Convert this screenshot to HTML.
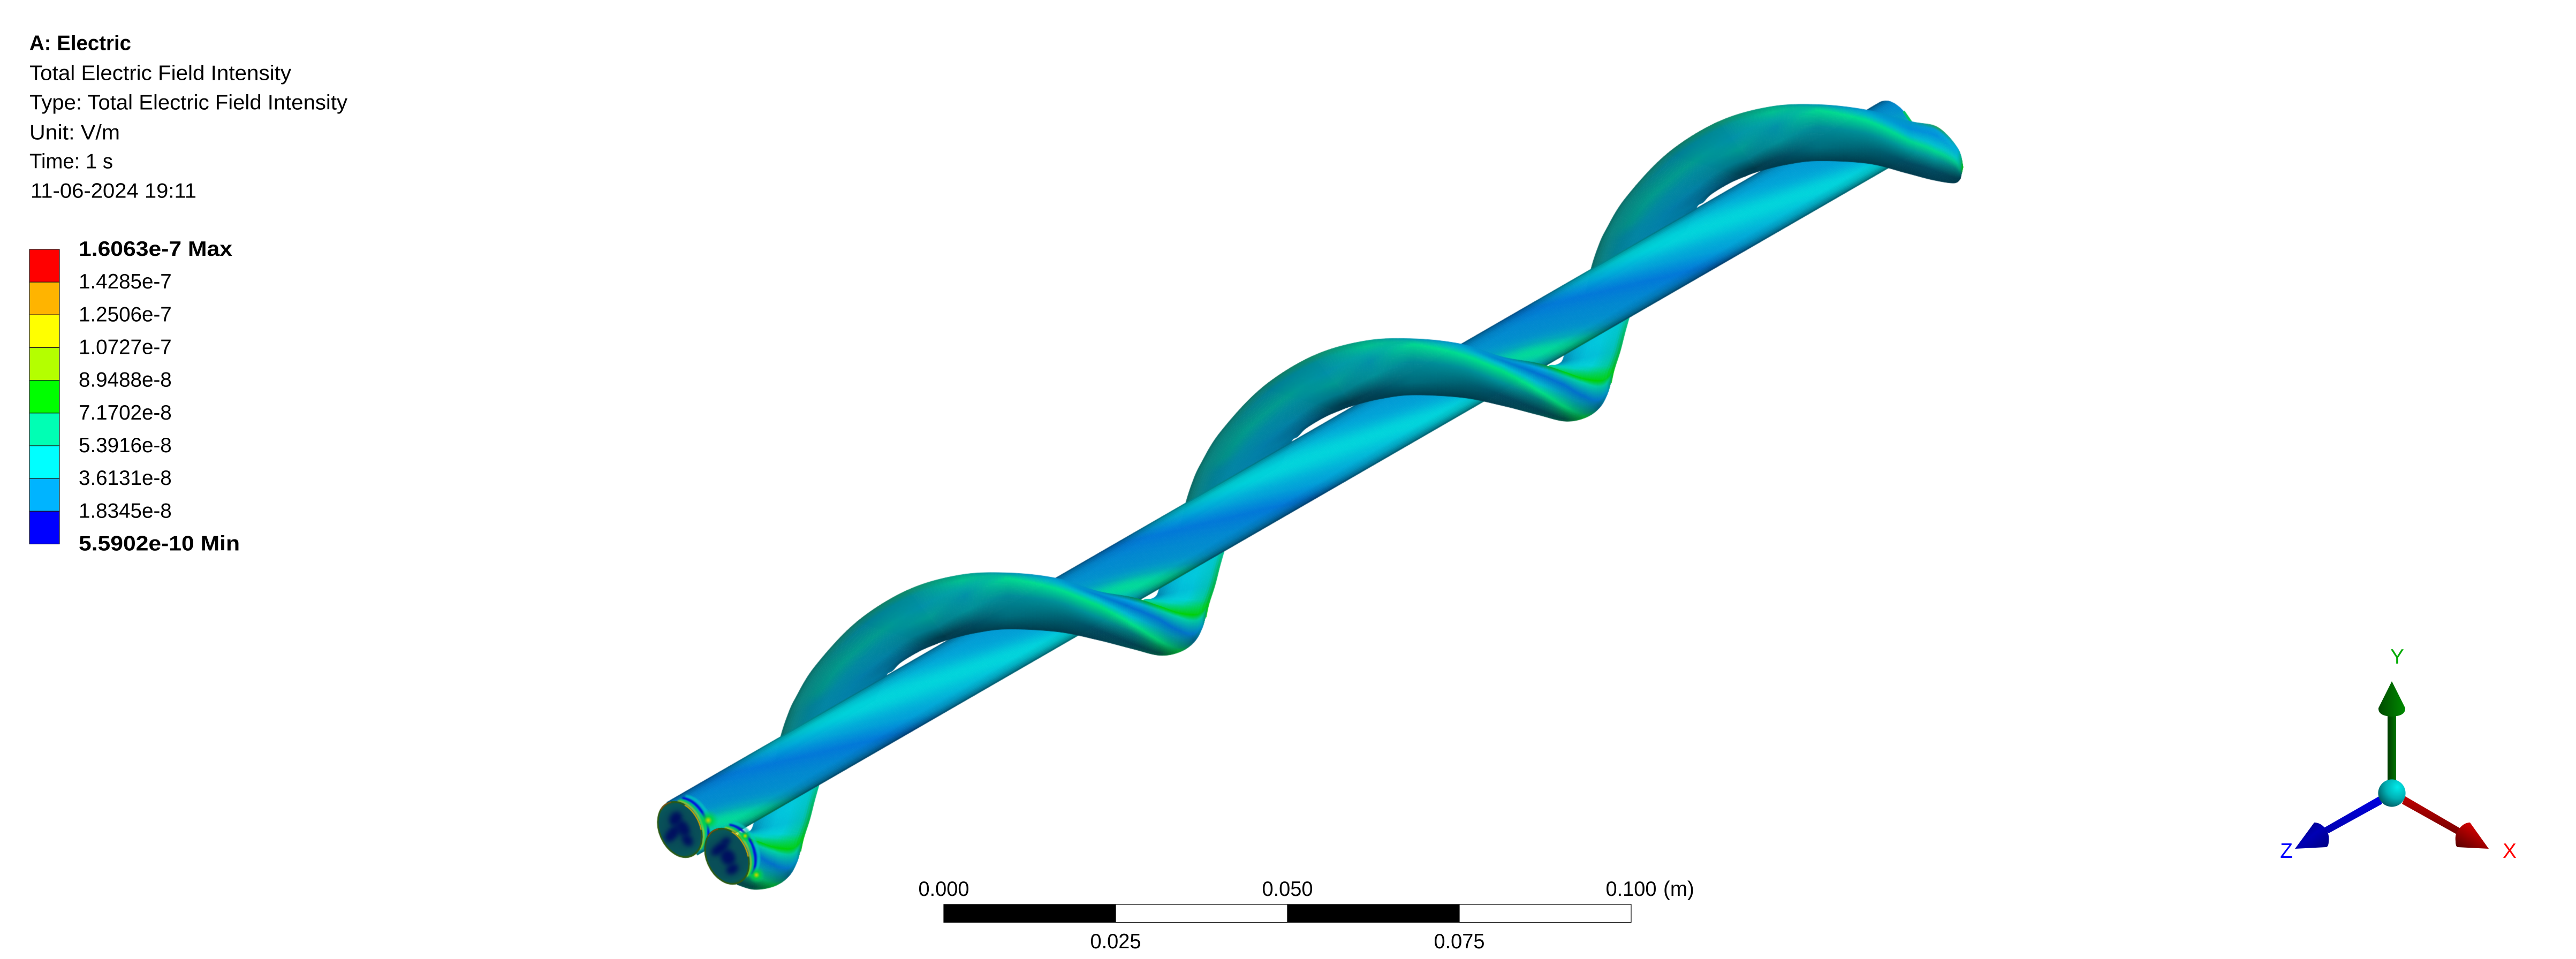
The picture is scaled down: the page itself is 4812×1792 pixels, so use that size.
<!DOCTYPE html>
<html lang="en">
<head>
<meta charset="utf-8">
<title>A: Electric - Total Electric Field Intensity</title>
<style>
html,body{margin:0;padding:0;background:#fff;width:4812px;height:1792px;overflow:hidden}
#stage{position:relative;width:4812px;height:1792px}
canvas,svg{position:absolute;left:0;top:0}
text{font-family:"Liberation Sans","DejaVu Sans",sans-serif;font-size:38.6px;fill:#000}
</style>
</head>
<body>
<div id="stage">
<canvas id="cv" width="4812" height="1792"></canvas>
<svg id="ov" width="4812" height="1792" viewBox="0 0 4812 1792">
  <defs>
    <linearGradient id="gy" x1="0" x2="1" y1="0" y2="0"><stop offset="0" stop-color="#003a00"/><stop offset="1" stop-color="#007400"/></linearGradient>
    <linearGradient id="gyc" x1="0" x2="1" y1="0" y2="0"><stop offset="0" stop-color="#004a00"/><stop offset="1" stop-color="#008a00"/></linearGradient>
    <linearGradient id="gz" x1="0" x2="0" y1="0" y2="1"><stop offset="0" stop-color="#0000e0"/><stop offset="1" stop-color="#0000b0"/></linearGradient>
    <linearGradient id="gzc" x1="0" x2="1" y1="0" y2="1"><stop offset="0" stop-color="#000070"/><stop offset="0.5" stop-color="#0000b4"/><stop offset="1" stop-color="#000080"/></linearGradient>
    <linearGradient id="gx" x1="0.6" x2="0.3" y1="0" y2="1"><stop offset="0" stop-color="#d00000"/><stop offset="1" stop-color="#600000"/></linearGradient>
    <linearGradient id="gxc" x1="0.8" x2="0" y1="0" y2="1"><stop offset="0" stop-color="#f00000"/><stop offset="1" stop-color="#500000"/></linearGradient>
    <radialGradient id="gs" cx="0.7" cy="0.28" r="0.85"><stop offset="0" stop-color="#00eaea"/><stop offset="0.5" stop-color="#00b0b4"/><stop offset="1" stop-color="#004c54"/></radialGradient>
  </defs>
  <g id="title-block">
    <text x="55" y="93.5" font-weight="bold" textLength="190" lengthAdjust="spacingAndGlyphs">A: Electric</text>
    <text x="55" y="149.5" textLength="489" lengthAdjust="spacingAndGlyphs">Total Electric Field Intensity</text>
    <text x="55" y="204.5" textLength="594" lengthAdjust="spacingAndGlyphs">Type: Total Electric Field Intensity</text>
    <text x="55" y="260.5" textLength="169" lengthAdjust="spacingAndGlyphs">Unit: V/m</text>
    <text x="55" y="314.5" textLength="156" lengthAdjust="spacingAndGlyphs">Time: 1 s</text>
    <text x="57" y="369.5" textLength="310" lengthAdjust="spacingAndGlyphs">11-06-2024 19:11</text>
  </g>
  <g id="legend"></g>
  <g id="scale"></g>
  <g id="triad">
    <g>
      <rect x="4460" y="1330" width="16" height="130" fill="url(#gy)"/>
      <path d="M4468 1273 L4493 1323 Q4494 1338 4468 1339 Q4442 1338 4443 1323 Z" fill="url(#gyc)"/>
    </g>
    <g>
      <path d="M4444 1488 L4450 1502 L4350 1557 L4341 1547 Z" fill="url(#gz)"/>
      <path d="M4287 1586 L4323 1537 Q4333 1537 4341 1545 Q4352 1555 4350 1572 Q4350 1582 4345 1583 Z" fill="url(#gzc)"/>
    </g>
    <g>
      <path d="M4493 1488 L4487 1502 L4591 1560 L4596 1548 Z" fill="url(#gx)"/>
      <path d="M4649 1586 L4614 1537 Q4604 1537 4596 1546 Q4585 1556 4587 1572 Q4587 1582 4591 1583 Z" fill="url(#gxc)"/>
    </g>
    <circle cx="4468" cy="1482" r="25.6" fill="url(#gs)"/>
    <text x="4478" y="1240" text-anchor="middle" style="fill:#00aa00">Y</text>
    <text x="4271" y="1603" text-anchor="middle" style="fill:#0000ff">Z</text>
    <text x="4688" y="1603" text-anchor="middle" style="fill:#ff0000">X</text>
  </g>
</svg>
</div>
<script>
// ---- legend & scale data ----
const legendLabels = ['1.6063e-7 Max','1.4285e-7','1.2506e-7','1.0727e-7','8.9488e-8','7.1702e-8','5.3916e-8','3.6131e-8','1.8345e-8','5.5902e-10 Min'];
const legendColors = ['#ff0000','#ffb400','#ffff00','#b4ff00','#00ff00','#00ffb4','#00ffff','#00b4ff','#0000ff'];
const scaleTicks = [0, 0.025, 0.05, 0.075, 0.1];
const scaleLabels = ['0.000','0.025','0.050','0.075','0.100'];
const scaleUnit = '(m)';
const SVGNS = 'http://www.w3.org/2000/svg';

function legendY(i){ return 466 + i * (550.5 / legendColors.length); }
function scaleX(v){ return 1763 + v / scaleTicks[scaleTicks.length-1] * 1284; }

(function buildLegend(){
  const g = document.getElementById('legend');
  legendColors.forEach(function(c,i){
    const r = document.createElementNS(SVGNS,'rect');
    
    
    r.setAttribute('x', 55); r.setAttribute('y', legendY(i));
    r.setAttribute('width', 56); r.setAttribute('height', legendY(i+1)-legendY(i));
    r.setAttribute('fill', c); r.setAttribute('stroke', '#1a1a1a'); r.setAttribute('stroke-width', 1.2);
    g.appendChild(r);
  });
  legendLabels.forEach(function(t,i){
    const x = document.createElementNS(SVGNS,'text');
    
    
    x.setAttribute('x', 147); x.setAttribute('y', legendY(i)+12);
    x.textContent = t;
    g.appendChild(x);
    if (i===0 || i===legendLabels.length-1){
      x.setAttribute('font-weight','bold');
      x.setAttribute('textLength', i===0 ? 287 : 301);
      x.setAttribute('lengthAdjust','spacingAndGlyphs');
    }
  });
})();

(function buildScale(){
  const g = document.getElementById('scale');
  for (let i=0;i<scaleTicks.length-1;i++){
    const r = document.createElementNS(SVGNS,'rect');
    
    
    r.setAttribute('x', scaleX(scaleTicks[i])); r.setAttribute('y', 1690);
    r.setAttribute('width', scaleX(scaleTicks[i+1])-scaleX(scaleTicks[i])); r.setAttribute('height', 33.5);
    r.setAttribute('fill', i%2===0 ? '#000' : '#fff'); r.setAttribute('stroke','#000'); r.setAttribute('stroke-width',1.2);
    g.appendChild(r);
  }
  scaleTicks.forEach(function(v,i){
    const x = document.createElementNS(SVGNS,'text');
    
    
    x.setAttribute('x', scaleX(v)); x.setAttribute('y', i%2===0 ? 1674 : 1772);
    x.setAttribute('text-anchor','middle'); x.setAttribute('textLength', 95);
    x.setAttribute('lengthAdjust','spacingAndGlyphs');
    x.textContent = scaleLabels[i];
    g.appendChild(x);
  });
  const u = document.createElementNS(SVGNS,'text');
  
  
  u.setAttribute('x', scaleX(scaleTicks[scaleTicks.length-1])+60); u.setAttribute('y', 1674);
  u.textContent = scaleUnit;
  g.appendChild(u);
})();

// ---- surface rendering (mesh patches on canvas) ----
const ctx = document.getElementById('cv').getContext('2d');
const PERIOD = [757, -437.5];

function hex(h){ return [parseInt(h.substr(1,2),16),parseInt(h.substr(3,2),16),parseInt(h.substr(5,2),16)]; }
function mix(a,b,f){ return [a[0]+(b[0]-a[0])*f,a[1]+(b[1]-a[1])*f,a[2]+(b[2]-a[2])*f]; }
function css(c){ return 'rgb('+Math.round(c[0])+','+Math.round(c[1])+','+Math.round(c[2])+')'; }
function cr(p0,p1,p2,p3,t){
  const t2=t*t,t3=t2*t;
  return [0,1].map(function(k){return 0.5*((2*p1[k])+(-p0[k]+p2[k])*t+(2*p0[k]-5*p1[k]+4*p2[k]-p3[k])*t2+(-p0[k]+3*p1[k]-3*p2[k]+p3[k])*t3);});
}
function parseRows(rows){ return rows.map(function(r){return r.map(function(s){return [s[0],hex(s[1])];});}); }
function stopsAt(rows,t){
  const n=rows.length-1, i=Math.min(Math.floor(t),n-1), f=t-i, a=rows[i], b=rows[i+1];
  return a.map(function(s,k){return [s[0]+(b[k][0]-s[0])*f, mix(s[1],b[k][1],f)];});
}
function evalStops(st,v){
  if (v<=st[0][0]) return st[0][1];
  for (let k=1;k<st.length;k++){
    if (v<=st[k][0]){
      const f=(v-st[k-1][0])/Math.max(1e-6,st[k][0]-st[k-1][0]);
      return mix(st[k-1][1],st[k][1],f);
    }
  }
  return st[st.length-1][1];
}
function bnd(pairs,side,t){
  const n=pairs.length-1, i=Math.min(Math.floor(t),n-1), f=t-i;
  const g=function(j){return pairs[Math.max(0,Math.min(n,j))][side];};
  return cr(g(i-1),g(i),g(i+1),g(i+2),f);
}
function quad(a,b,c,d,col){
  const s=css(col);
  ctx.fillStyle=s; ctx.strokeStyle=s; ctx.lineWidth=0.9;
  ctx.beginPath(); ctx.moveTo(a[0],a[1]); ctx.lineTo(b[0],b[1]); ctx.lineTo(c[0],c[1]); ctx.lineTo(d[0],d[1]); ctx.closePath();
  ctx.fill(); ctx.stroke();
}
// draws rows fromRow..toRow of a patch, keeping the spline continuous with the full row list
function drawPatch(pairs,rowsHex,nv,segs,dx,dy,fromRow,toRow){
  const rows=parseRows(rowsHex), n=pairs.length-1;
  const a=fromRow===undefined?0:fromRow, b=toRow===undefined?n:toRow;
  const P=pairs.map(function(p){return [[p[0][0]+dx,p[0][1]+dy],[p[1][0]+dx,p[1][1]+dy]];});
  for (let u=a*segs;u<b*segs;u++){
    const t0=u/segs,t1=(u+1)/segs;
    const a0=bnd(P,0,t0),b0=bnd(P,1,t0),a1=bnd(P,0,t1),b1=bnd(P,1,t1);
    const st=stopsAt(rows,(t0+t1)/2);
    for (let k=0;k<nv;k++){
      const v0=k/nv,v1=(k+1)/nv,vm=(v0+v1)/2;
      const q=function(p,r,v){return [p[0]+(r[0]-p[0])*v,p[1]+(r[1]-p[1])*v];};
      quad(q(a0,b0,v0),q(a1,b1,v0),q(a1,b1,v1),q(a0,b0,v1),evalStops(st,vm));
    }
  }
}

// ---- foot (behind tube) ----
const footPairs = [
 [[2925,650],[3046,585]],
 [[2922,664],[3036,620]],
 [[2917,676],[3027,655]],
 [[2907,682],[3018,683]],
 [[2893,684],[3014,697]],
 [[2893,700],[3010,716]]
];
const footRows = [
 [[0,'#0098c0'],[.2,'#00b0d0'],[.4,'#00c0d8'],[.6,'#00c8dc'],[.88,'#00c8d0'],[1,'#00c0a0']],
 [[0,'#0090b8'],[.2,'#00b0d0'],[.4,'#00c4dc'],[.6,'#00c8dc'],[.88,'#00c4c8'],[1,'#00b860']],
 [[0,'#0080a8'],[.2,'#00a8cc'],[.4,'#00bcd8'],[.6,'#00c0d8'],[.88,'#00c0b8'],[1,'#00b040']],
 [[0,'#00a0c0'],[.2,'#00c0d0'],[.4,'#00ccd8'],[.6,'#00d0d8'],[.88,'#00c8a0'],[1,'#00b820']],
 [[0,'#00d0a0'],[.2,'#00d0b8'],[.4,'#00d0c8'],[.6,'#00d0b0'],[.88,'#00d060'],[1,'#00c800']],
 [[0,'#00d000'],[.2,'#00d000'],[.4,'#00d000'],[.6,'#00d000'],[.88,'#00d000'],[1,'#00c800']]
];
function drawFoot(k){ drawPatch(footPairs,footRows,24,10,PERIOD[0]*k,PERIOD[1]*k); }

// ---- tube ----
const bandOffsets = [0,100,180,260,350,450,540,640,742,757];
const bandColors = ['#0090cc','#0088d0','#0078d8','#00a0d8','#00b4d8','#00b8d8','#00a4d8','#0098d4','#0088cc','#0090cc'].map(hex);
const tubeEdgeV = [0,.03,.1,.2,.8,.9,.97,1];
const tubeEdgeShade = [.55,.76,.94,1,1,.88,.66,.46];
const cyanStreak = hex('#00dcdc'), greenStreak = hex('#00dc98'), paleStreak = hex('#00b8c8');
function lut(xs,ys,x){
  if (x<=xs[0]) return ys[0];
  for (let i=1;i<xs.length;i++){ if (x<=xs[i]) return ys[i-1]+(ys[i]-ys[i-1])*(x-xs[i-1])/(xs[i]-xs[i-1]); }
  return ys[ys.length-1];
}
function wrap(d){ d=((d%757)+757)%757; return d>378.5?d-757:d; }
function smooth(a,b,x){ const t=Math.max(0,Math.min(1,(x-a)/(b-a))); return t*t*(3-2*t); }
function bandColor(p){
  p=((p%757)+757)%757;
  for (let i=1;i<bandOffsets.length;i++){
    if (p<=bandOffsets[i]) return mix(bandColors[i-1],bandColors[i],(p-bandOffsets[i-1])/(bandOffsets[i]-bandOffsets[i-1]));
  }
  return bandColors[0];
}
function tubeColor(Xc,v){
  const b=Xc-2090;
  let c=bandColor(b-330*(v-.5));
  const d1=wrap(b-(400+500*(v-.45)));
  c=mix(c,cyanStreak,.78*Math.exp(-(d1*d1)/(95*95)));
  const d2=wrap(b-(770+280*(v-.75)));
  const g=Math.exp(-(d2*d2)/(55*55));
  c=mix(c,paleStreak,.4*g*(1-smooth(.25,.7,v)));
  c=mix(c,greenStreak,.95*g*smooth(.25,.7,v));
  return c;
}
function drawTube(){
  const ex=.8661,ey=-.4998,nx=.4998,ny=.8661,W=115,ux=1245,uy=1499;
  const px=function(s,v){return [ux+ex*s+nx*W*v,uy+ey*s+ny*W*v];};
  ctx.save();
  ctx.beginPath();
  const a=px(0,0),b=px(2588.6,0),c=px(0,1);
  ctx.moveTo(a[0],a[1]); ctx.lineTo(b[0],b[1]);
  ctx.bezierCurveTo(3500,197,3510,188,3523,188);
  ctx.bezierCurveTo(3538,188,3558,205,3570,227);
  ctx.lineTo(3580,290);
  ctx.lineTo(3530,313); ctx.lineTo(c[0],c[1]); ctx.closePath();
  ctx.clip();
  const ds=4.6, nv=40;
  for (let s=0;s<2780;s+=ds){
    for (let k=0;k<nv;k++){
      const v0=k/nv,v1=(k+1)/nv,vm=(v0+v1)/2;
      const X=ux+ex*(s+ds/2)+nx*W*.5;
      const col=tubeColor(X,vm);
      const sh=lut(tubeEdgeV,tubeEdgeShade,vm);
      quad(px(s,v0),px(s+ds,v0),px(s+ds,v1),px(s,v1),[col[0]*sh,col[1]*sh,col[2]*sh]);
    }
  }
  ctx.restore();
  ctx.save();
  ctx.strokeStyle='#00c860'; ctx.lineWidth=4;
  ctx.beginPath(); ctx.moveTo(3556,208); ctx.lineTo(3570,228); ctx.stroke();
  ctx.restore();
}

// ---- arc strand ----
const arcPairs = [
 [[2215,940],[2413,824]],
 [[2228,900],[2425,815]],
 [[2243,867],[2440,800]],
 [[2280,807],[2473,780]],
 [[2357,725],[2500,768]],
 [[2453,665],[2527,758]],
 [[2550,637],[2580,745]],
 [[2640,633],[2640,738]],
 [[2730,643],[2733,743]],
 [[2807,667],[2807,758]],
 [[2873,679],[2873,775]],
 [[2923,695],[2923,787]],
 [[2960,708],[2960,781]],
 [[2987,711],[2987,763]],
 [[3002,707],[3003,735]],
 [[3014,692],[3012,700]]
];
const R0 = [[0,'#0a6460'],[.03,'#0c7470'],[.1,'#0a8084'],[.25,'#007f96'],[.4,'#0084a4'],[.6,'#0080a8'],[.85,'#0078a0'],[1,'#006a90']];
const R2 = [[0,'#0a6660'],[.03,'#0a7a74'],[.08,'#0a8480'],[.25,'#009088'],[.4,'#0088a0'],[.65,'#007ca8'],[.9,'#006a90'],[1,'#004c68']];
const R3 = [[0,'#0a6a66'],[.03,'#0a7a74'],[.09,'#07847f'],[.28,'#009a8c'],[.45,'#0088a0'],[.68,'#0080a4'],[.9,'#005878'],[1,'#003e58']];
const R4 = [[0,'#126e60'],[.03,'#0c7c74'],[.12,'#007f96'],[.35,'#009a90'],[.5,'#008c9c'],[.7,'#007c90'],[.9,'#00485c'],[1,'#003a4c']];
const R5 = [[0,'#108a68'],[.05,'#0c8c78'],[.12,'#008c98'],[.35,'#0090a8'],[.55,'#009a92'],[.75,'#007888'],[.93,'#003848'],[1,'#003c50']];
const R6 = [[0,'#00a088'],[.04,'#00b088'],[.1,'#00c090'],[.22,'#00a8a4'],[.35,'#0090a8'],[.6,'#009098'],[.85,'#004c60'],[1,'#003c4c']];
const R7 = [[0,'#0090b4'],[.02,'#00a0b0'],[.04,'#00b0a0'],[.07,'#00c898'],[.1,'#00d890'],[.41,'#008a98'],[.78,'#006c7c'],[1,'#004050']];
const R8 = [[0,'#0090c8'],[.02,'#0098cc'],[.05,'#00a8d0'],[.1,'#00b8c8'],[.2,'#00e090'],[.45,'#009098'],[.72,'#006474'],[1,'#003c4c']];
const R9 = [[0,'#0090c8'],[.04,'#0090d0'],[.08,'#0080d0'],[.18,'#00c0d0'],[.29,'#00e080'],[.54,'#009098'],[.8,'#004a60'],[1,'#004050']];
const R10 = [[0,'#008050'],[.09,'#00a8e0'],[.21,'#0070d0'],[.39,'#00b8d0'],[.53,'#00e088'],[.7,'#007878'],[.91,'#004050'],[1,'#004a50']];
const R11 = [[0,'#00d000'],[.09,'#00c8a8'],[.27,'#0070d0'],[.45,'#0098b8'],[.71,'#00c870'],[.83,'#008050'],[.96,'#004840'],[1,'#005a40']];
const R12 = [[0,'#00d000'],[.11,'#00d0a8'],[.45,'#0070c8'],[.62,'#0088a8'],[.9,'#009060'],[.95,'#00a040'],[.98,'#00a030'],[1,'#00a030']];
const R13 = [[0,'#00d000'],[.22,'#00c8a0'],[.7,'#0078c8'],[.85,'#006a90'],[.95,'#006080'],[.97,'#006080'],[.99,'#006080'],[1,'#006080']];
const R14 = [[0,'#00c830'],[.3,'#00c8a0'],[.8,'#00a0c0'],[.9,'#0090c0'],[.93,'#0090c0'],[.95,'#0090c0'],[.97,'#0090c0'],[1,'#0090c0']];
const R15 = [[0,'#00c020'],[.2,'#00c020'],[.4,'#00c020'],[.6,'#00c020'],[.7,'#00c020'],[.8,'#00c020'],[.9,'#00c020'],[1,'#00c020']];
const arcRows = [R0,R0,R2,R3,R4,R5,R6,R7,R8,R9,R10,R11,R12,R13,R14,R15];

const backExtension = [[2205,985],[2392,870]];
const inletStart = [[2852,674],[2891,778]];

const endPairs = [
 [[3570,227],[3560,323]],
 [[3620,238],[3610,336]],
 [[3657,277],[3650,342]],
 [[3667,312],[3662,334]]
];
const endRows = [
 [[0,'#0098c8'],[.07,'#0094d0'],[.15,'#0090d8'],[.28,'#00b8d0'],[.38,'#00d890'],[.55,'#009898'],[.8,'#004a60'],[1,'#003a4c']],
 [[0,'#20a040'],[.07,'#00a0d8'],[.17,'#0090dc'],[.36,'#00c0d0'],[.46,'#00d890'],[.6,'#009898'],[.82,'#004a60'],[1,'#003c50']],
 [[0,'#00a8d8'],[.1,'#00b0d8'],[.2,'#00b8d0'],[.3,'#00c8c0'],[.42,'#00c890'],[.6,'#007878'],[.85,'#003e50'],[1,'#003a4c']],
 [[0,'#00a820'],[.12,'#00c010'],[.3,'#00a830'],[.45,'#009040'],[.6,'#006860'],[.75,'#005060'],[.9,'#004050'],[1,'#003a48']]
];

// ---- end caps ----
const DEG=Math.PI/180;
function capInterior(cx,cy,blobs){
  ctx.save();
  ctx.beginPath(); ctx.ellipse(cx,cy,55,39,66*DEG,0,Math.PI*2); ctx.closePath();
  ctx.fillStyle='#0a4f58'; ctx.fill();
  ctx.clip();
  const ring=ctx.createRadialGradient(cx,cy,22,cx,cy,56);
  ring.addColorStop(0,'rgba(6,70,88,0)'); ring.addColorStop(.75,'rgba(8,90,92,.7)'); ring.addColorStop(1,'rgba(30,90,30,.9)');
  ctx.fillStyle=ring; ctx.fillRect(cx-70,cy-70,140,140);
  ctx.filter='blur(4px)';
  ctx.fillStyle='#001060';
  blobs.forEach(function(b){ ctx.beginPath(); ctx.ellipse(cx+b[0],cy+b[1],b[2],b[3],b[4]*DEG,0,Math.PI*2); ctx.fill(); });
  ctx.filter='none';
  ctx.restore();
  ctx.lineWidth=3;
  ctx.strokeStyle='#2c5a14';
  ctx.beginPath(); ctx.ellipse(cx,cy,54,38,66*DEG,0,Math.PI*2); ctx.stroke();
  ctx.strokeStyle='#c0a010'; ctx.lineWidth=2.5;
  ctx.beginPath(); ctx.ellipse(cx,cy,54,38,66*DEG,Math.PI*1.25,Math.PI*1.6); ctx.stroke();
  ctx.strokeStyle='#7a4a10'; ctx.lineWidth=2.5;
  ctx.beginPath(); ctx.ellipse(cx,cy,54,38,66*DEG,Math.PI*.85,Math.PI*1.05); ctx.stroke();
}
function flare(cx,cy,patches){
  const ex=.8661,ey=-.4998;
  const rings=[[21,'#00c8c0',6,.7],[14,'#0014d8',4.5,1],[8,'#00c870',4,1],[4,'#b8d000',2.5,1]];
  rings.forEach(function(r){
    ctx.save();
    ctx.globalAlpha=r[3];
    ctx.filter='blur(1.2px)';
    ctx.strokeStyle=r[1]; ctx.lineWidth=r[2];
    ctx.beginPath(); ctx.ellipse(cx+ex*r[0],cy+ey*r[0],54,38,66*DEG,Math.PI*1.12,Math.PI*1.88); ctx.stroke();
    ctx.filter='none';
    ctx.restore();
  });
  patches.forEach(function(p){
    const g=ctx.createRadialGradient(p[0],p[1],1,p[0],p[1],p[2]);
    g.addColorStop(0,'rgba(190,210,0,1)'); g.addColorStop(.35,'rgba(0,210,60,.85)'); g.addColorStop(1,'rgba(0,200,120,0)');
    ctx.fillStyle=g; ctx.beginPath(); ctx.arc(p[0],p[1],p[2],0,Math.PI*2); ctx.fill();
  });
}

// ---- paint order: back to front ----
[-2,-1,0].forEach(drawFoot);
const backPairs = [backExtension].concat(arcPairs);
const backRows = [R0].concat(arcRows);
[-1,0,1].forEach(function(k){ drawPatch(backPairs,backRows,40,14,PERIOD[0]*k,PERIOD[1]*k,0,6); });
drawTube();
flare(1270,1550,[[1323,1533,20]]);
capInterior(1270,1550,[[-8,-20,11,14,30],[-14,8,10,18,40],[6,-2,16,11,60],[14,20,12,9,50]]);
// truncated strand at the second inlet
drawPatch([inletStart].concat(arcPairs.slice(11)),[R10].concat(arcRows.slice(11)),48,14,PERIOD[0]*-2,PERIOD[1]*-2);
// strand crossings in front of the tube
drawPatch(arcPairs,arcRows,56,14,PERIOD[0]*-1,PERIOD[1]*-1,4);
drawPatch(arcPairs,arcRows,56,14,0,0,4);
(function(){
  const p=arcPairs.slice(0,9).map(function(q){return [[q[0][0]+PERIOD[0],q[0][1]+PERIOD[1]],[q[1][0]+PERIOD[0],q[1][1]+PERIOD[1]]];}).concat(endPairs);
  const rows=arcRows.slice(0,9).concat(endRows);
  drawPatch(p,rows,56,14,0,0,4);
})();
flare(1358,1600,[[1413,1635,16],[1392,1562,12]]);
capInterior(1358,1600,[[-14,-14,9,18,55],[2,2,15,13,60],[10,24,9,12,60],[-2,-28,6,9,60]]);
</script>
</body>
</html>
